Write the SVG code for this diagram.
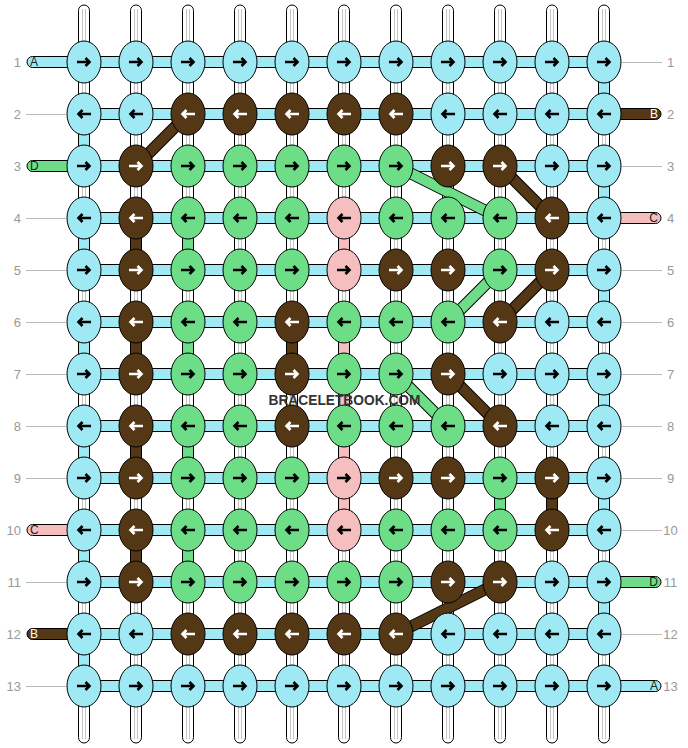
<svg xmlns="http://www.w3.org/2000/svg" xmlns:xlink="http://www.w3.org/1999/xlink" width="688" height="748" viewBox="0 0 688 748">
<style>
.rod{fill:#fff;stroke:#000;stroke-width:1}
.rl{stroke:#c4c4c4;stroke-width:1}
.h{fill:#9fe9f5;stroke:#000;stroke-width:1}
.kL{fill:#9fe9f5;stroke:#000;stroke-width:1}
.kG{fill:#6edd88;stroke:#000;stroke-width:1}
.kB{fill:#543816;stroke:#000;stroke-width:1}
.kP{fill:#f5bfbf;stroke:#000;stroke-width:1}
.vL{fill:#9fe9f5;stroke:#000}
.vG{fill:#6edd88;stroke:#000}
.vB{fill:#543816;stroke:#000}
.vP{fill:#f5bfbf;stroke:#000}
.dO{stroke:#000;stroke-width:12}
.dG{stroke:#6edd88;stroke-width:10}
.dB{stroke:#543816;stroke-width:10}
.gl{stroke:#bbb;stroke-width:1}
.b{stroke:#000}
.w{stroke:#fff}
.num{font-family:"Liberation Sans",Arial,sans-serif;font-size:13px;fill:#999}
.sl{font-family:"Liberation Sans",Arial,sans-serif;font-size:12px}
.wm{font-family:"Liberation Sans",Arial,sans-serif;font-size:15px;font-weight:bold;fill:#333}
</style>
<defs>
<path id="R" d="M-7,0H5.5M1.5,-4L5.5,0L1.5,4" fill="none" stroke-width="2.6"/>
<path id="L" d="M7,0H-5.5M-1.5,-4L-5.5,0L-1.5,4" fill="none" stroke-width="2.6"/>
</defs>
<g id="warp">
<rect class="rod" x="78.5" y="5" width="11" height="738" rx="5.5"/><path class="rl" d="M82.5,9V739M85.5,9V739"/>
<rect class="rod" x="130.5" y="5" width="11" height="738" rx="5.5"/><path class="rl" d="M134.5,9V739M137.5,9V739"/>
<rect class="rod" x="182.5" y="5" width="11" height="738" rx="5.5"/><path class="rl" d="M186.5,9V739M189.5,9V739"/>
<rect class="rod" x="234.5" y="5" width="11" height="738" rx="5.5"/><path class="rl" d="M238.5,9V739M241.5,9V739"/>
<rect class="rod" x="286.5" y="5" width="11" height="738" rx="5.5"/><path class="rl" d="M290.5,9V739M293.5,9V739"/>
<rect class="rod" x="338.5" y="5" width="11" height="738" rx="5.5"/><path class="rl" d="M342.5,9V739M345.5,9V739"/>
<rect class="rod" x="390.5" y="5" width="11" height="738" rx="5.5"/><path class="rl" d="M394.5,9V739M397.5,9V739"/>
<rect class="rod" x="442.5" y="5" width="11" height="738" rx="5.5"/><path class="rl" d="M446.5,9V739M449.5,9V739"/>
<rect class="rod" x="494.5" y="5" width="11" height="738" rx="5.5"/><path class="rl" d="M498.5,9V739M501.5,9V739"/>
<rect class="rod" x="546.5" y="5" width="11" height="738" rx="5.5"/><path class="rl" d="M550.5,9V739M553.5,9V739"/>
<rect class="rod" x="598.5" y="5" width="11" height="738" rx="5.5"/><path class="rl" d="M602.5,9V739M605.5,9V739"/>
</g>
<g id="connectors">
<g id="ends">
<rect class="h" x="27" y="56.5" width="62" height="11" rx="5.5"/>
<rect class="vG" x="27" y="160.5" width="62" height="11" rx="5.5"/>
<rect class="vP" x="27" y="524.5" width="62" height="11" rx="5.5"/>
<rect class="vB" x="27" y="628.5" width="62" height="11" rx="5.5"/>
<rect class="vB" x="599" y="108.5" width="62" height="11" rx="5.5"/>
<rect class="vP" x="599" y="212.5" width="62" height="11" rx="5.5"/>
<rect class="vG" x="599" y="576.5" width="62" height="11" rx="5.5"/>
<rect class="h" x="599" y="680.5" width="62" height="11" rx="5.5"/>
<path class="gl" d="M26,114.5H66M26,218.5H66M26,270.5H66M26,322.5H66M26,374.5H66M26,426.5H66M26,478.5H66M26,582.5H66M26,686.5H66"/>
<path class="gl" d="M622,62.5H662M622,166.5H662M622,270.5H662M622,322.5H662M622,374.5H662M622,426.5H662M622,478.5H662M622,530.5H662M622,634.5H662"/>
</g>
<g id="rows">
<rect class="h" x="84" y="56.5" width="520" height="11"/>
<rect class="h" x="84" y="108.5" width="520" height="11"/>
<rect class="h" x="84" y="160.5" width="520" height="11"/>
<rect class="h" x="84" y="212.5" width="520" height="11"/>
<rect class="h" x="84" y="264.5" width="520" height="11"/>
<rect class="h" x="84" y="316.5" width="520" height="11"/>
<rect class="h" x="84" y="368.5" width="520" height="11"/>
<rect class="h" x="84" y="420.5" width="520" height="11"/>
<rect class="h" x="84" y="472.5" width="520" height="11"/>
<rect class="h" x="84" y="524.5" width="520" height="11"/>
<rect class="h" x="84" y="576.5" width="520" height="11"/>
<rect class="h" x="84" y="628.5" width="520" height="11"/>
<rect class="h" x="84" y="680.5" width="520" height="11"/>
</g>
<g id="verticals">
<rect class="vL" x="78.5" y="131" width="11" height="18"/>
<rect class="vL" x="78.5" y="235" width="11" height="18"/>
<rect class="vL" x="78.5" y="339" width="11" height="18"/>
<rect class="vL" x="78.5" y="443" width="11" height="18"/>
<rect class="vL" x="78.5" y="547" width="11" height="18"/>
<rect class="vL" x="78.5" y="651" width="11" height="18"/>
<rect class="vL" x="598.5" y="79" width="11" height="18"/>
<rect class="vL" x="598.5" y="183" width="11" height="18"/>
<rect class="vL" x="598.5" y="287" width="11" height="18"/>
<rect class="vL" x="598.5" y="391" width="11" height="18"/>
<rect class="vL" x="598.5" y="495" width="11" height="18"/>
<rect class="vL" x="598.5" y="599" width="11" height="18"/>
<rect class="vB" x="130.5" y="235" width="11" height="18"/>
<rect class="vB" x="130.5" y="339" width="11" height="18"/>
<rect class="vB" x="130.5" y="443" width="11" height="18"/>
<rect class="vB" x="130.5" y="547" width="11" height="18"/>
<rect class="vG" x="182.5" y="235" width="11" height="18"/>
<rect class="vG" x="182.5" y="339" width="11" height="18"/>
<rect class="vG" x="182.5" y="443" width="11" height="18"/>
<rect class="vG" x="182.5" y="547" width="11" height="18"/>
<rect class="vB" x="286.5" y="339" width="11" height="18"/>
<rect class="vP" x="338.5" y="235" width="11" height="18"/>
<rect class="vP" x="338.5" y="339" width="11" height="18"/>
<rect class="vP" x="338.5" y="391" width="11" height="18"/>
<rect class="vP" x="338.5" y="443" width="11" height="18"/>
<rect class="vP" x="338.5" y="495" width="11" height="18"/>
<rect class="vG" x="494.5" y="495" width="11" height="18"/>
<rect class="vB" x="546.5" y="495" width="11" height="18"/>
</g>
<g id="diagonals">
<path class="dO" d="M136,166L188,114M396,166L500,218M500,166L552,218M500,270L448,322M552,270L500,322M396,374L448,426M448,374L500,426M500,582L396,634"/>
<path class="dB" d="M136,166L188,114"/>
<path class="dG" d="M396,166L500,218"/>
<path class="dB" d="M500,166L552,218"/>
<path class="dG" d="M500,270L448,322"/>
<path class="dB" d="M552,270L500,322"/>
<path class="dG" d="M396,374L448,426"/>
<path class="dB" d="M448,374L500,426"/>
<path class="dB" d="M500,582L396,634"/>
</g>
</g>
<g id="knots">
<g id="n1-1"><ellipse class="kL" cx="84" cy="62" rx="17" ry="21"/><use href="#R" x="84" y="62" class="b"/></g>
<g id="n1-2"><ellipse class="kL" cx="136" cy="62" rx="17" ry="21"/><use href="#R" x="136" y="62" class="b"/></g>
<g id="n1-3"><ellipse class="kL" cx="188" cy="62" rx="17" ry="21"/><use href="#R" x="188" y="62" class="b"/></g>
<g id="n1-4"><ellipse class="kL" cx="240" cy="62" rx="17" ry="21"/><use href="#R" x="240" y="62" class="b"/></g>
<g id="n1-5"><ellipse class="kL" cx="292" cy="62" rx="17" ry="21"/><use href="#R" x="292" y="62" class="b"/></g>
<g id="n1-6"><ellipse class="kL" cx="344" cy="62" rx="17" ry="21"/><use href="#R" x="344" y="62" class="b"/></g>
<g id="n1-7"><ellipse class="kL" cx="396" cy="62" rx="17" ry="21"/><use href="#R" x="396" y="62" class="b"/></g>
<g id="n1-8"><ellipse class="kL" cx="448" cy="62" rx="17" ry="21"/><use href="#R" x="448" y="62" class="b"/></g>
<g id="n1-9"><ellipse class="kL" cx="500" cy="62" rx="17" ry="21"/><use href="#R" x="500" y="62" class="b"/></g>
<g id="n1-10"><ellipse class="kL" cx="552" cy="62" rx="17" ry="21"/><use href="#R" x="552" y="62" class="b"/></g>
<g id="n1-11"><ellipse class="kL" cx="604" cy="62" rx="17" ry="21"/><use href="#R" x="604" y="62" class="b"/></g>

<g id="n2-1"><ellipse class="kL" cx="84" cy="114" rx="17" ry="21"/><use href="#L" x="84" y="114" class="b"/></g>
<g id="n2-2"><ellipse class="kL" cx="136" cy="114" rx="17" ry="21"/><use href="#L" x="136" y="114" class="b"/></g>
<g id="n2-3"><ellipse class="kB" cx="188" cy="114" rx="17" ry="21"/><use href="#L" x="188" y="114" class="w"/></g>
<g id="n2-4"><ellipse class="kB" cx="240" cy="114" rx="17" ry="21"/><use href="#L" x="240" y="114" class="w"/></g>
<g id="n2-5"><ellipse class="kB" cx="292" cy="114" rx="17" ry="21"/><use href="#L" x="292" y="114" class="w"/></g>
<g id="n2-6"><ellipse class="kB" cx="344" cy="114" rx="17" ry="21"/><use href="#L" x="344" y="114" class="w"/></g>
<g id="n2-7"><ellipse class="kB" cx="396" cy="114" rx="17" ry="21"/><use href="#L" x="396" y="114" class="w"/></g>
<g id="n2-8"><ellipse class="kL" cx="448" cy="114" rx="17" ry="21"/><use href="#L" x="448" y="114" class="b"/></g>
<g id="n2-9"><ellipse class="kL" cx="500" cy="114" rx="17" ry="21"/><use href="#L" x="500" y="114" class="b"/></g>
<g id="n2-10"><ellipse class="kL" cx="552" cy="114" rx="17" ry="21"/><use href="#L" x="552" y="114" class="b"/></g>
<g id="n2-11"><ellipse class="kL" cx="604" cy="114" rx="17" ry="21"/><use href="#L" x="604" y="114" class="b"/></g>

<g id="n3-1"><ellipse class="kL" cx="84" cy="166" rx="17" ry="21"/><use href="#R" x="84" y="166" class="b"/></g>
<g id="n3-2"><ellipse class="kB" cx="136" cy="166" rx="17" ry="21"/><use href="#R" x="136" y="166" class="w"/></g>
<g id="n3-3"><ellipse class="kG" cx="188" cy="166" rx="17" ry="21"/><use href="#R" x="188" y="166" class="b"/></g>
<g id="n3-4"><ellipse class="kG" cx="240" cy="166" rx="17" ry="21"/><use href="#R" x="240" y="166" class="b"/></g>
<g id="n3-5"><ellipse class="kG" cx="292" cy="166" rx="17" ry="21"/><use href="#R" x="292" y="166" class="b"/></g>
<g id="n3-6"><ellipse class="kG" cx="344" cy="166" rx="17" ry="21"/><use href="#R" x="344" y="166" class="b"/></g>
<g id="n3-7"><ellipse class="kG" cx="396" cy="166" rx="17" ry="21"/><use href="#R" x="396" y="166" class="b"/></g>
<g id="n3-8"><ellipse class="kB" cx="448" cy="166" rx="17" ry="21"/><use href="#R" x="448" y="166" class="w"/></g>
<g id="n3-9"><ellipse class="kB" cx="500" cy="166" rx="17" ry="21"/><use href="#R" x="500" y="166" class="w"/></g>
<g id="n3-10"><ellipse class="kL" cx="552" cy="166" rx="17" ry="21"/><use href="#R" x="552" y="166" class="b"/></g>
<g id="n3-11"><ellipse class="kL" cx="604" cy="166" rx="17" ry="21"/><use href="#R" x="604" y="166" class="b"/></g>

<g id="n4-1"><ellipse class="kL" cx="84" cy="218" rx="17" ry="21"/><use href="#L" x="84" y="218" class="b"/></g>
<g id="n4-2"><ellipse class="kB" cx="136" cy="218" rx="17" ry="21"/><use href="#L" x="136" y="218" class="w"/></g>
<g id="n4-3"><ellipse class="kG" cx="188" cy="218" rx="17" ry="21"/><use href="#L" x="188" y="218" class="b"/></g>
<g id="n4-4"><ellipse class="kG" cx="240" cy="218" rx="17" ry="21"/><use href="#L" x="240" y="218" class="b"/></g>
<g id="n4-5"><ellipse class="kG" cx="292" cy="218" rx="17" ry="21"/><use href="#L" x="292" y="218" class="b"/></g>
<g id="n4-6"><ellipse class="kP" cx="344" cy="218" rx="17" ry="21"/><use href="#L" x="344" y="218" class="b"/></g>
<g id="n4-7"><ellipse class="kG" cx="396" cy="218" rx="17" ry="21"/><use href="#L" x="396" y="218" class="b"/></g>
<g id="n4-8"><ellipse class="kG" cx="448" cy="218" rx="17" ry="21"/><use href="#L" x="448" y="218" class="b"/></g>
<g id="n4-9"><ellipse class="kG" cx="500" cy="218" rx="17" ry="21"/><use href="#L" x="500" y="218" class="b"/></g>
<g id="n4-10"><ellipse class="kB" cx="552" cy="218" rx="17" ry="21"/><use href="#L" x="552" y="218" class="w"/></g>
<g id="n4-11"><ellipse class="kL" cx="604" cy="218" rx="17" ry="21"/><use href="#L" x="604" y="218" class="b"/></g>

<g id="n5-1"><ellipse class="kL" cx="84" cy="270" rx="17" ry="21"/><use href="#R" x="84" y="270" class="b"/></g>
<g id="n5-2"><ellipse class="kB" cx="136" cy="270" rx="17" ry="21"/><use href="#R" x="136" y="270" class="w"/></g>
<g id="n5-3"><ellipse class="kG" cx="188" cy="270" rx="17" ry="21"/><use href="#R" x="188" y="270" class="b"/></g>
<g id="n5-4"><ellipse class="kG" cx="240" cy="270" rx="17" ry="21"/><use href="#R" x="240" y="270" class="b"/></g>
<g id="n5-5"><ellipse class="kG" cx="292" cy="270" rx="17" ry="21"/><use href="#R" x="292" y="270" class="b"/></g>
<g id="n5-6"><ellipse class="kP" cx="344" cy="270" rx="17" ry="21"/><use href="#R" x="344" y="270" class="b"/></g>
<g id="n5-7"><ellipse class="kB" cx="396" cy="270" rx="17" ry="21"/><use href="#R" x="396" y="270" class="w"/></g>
<g id="n5-8"><ellipse class="kB" cx="448" cy="270" rx="17" ry="21"/><use href="#R" x="448" y="270" class="w"/></g>
<g id="n5-9"><ellipse class="kG" cx="500" cy="270" rx="17" ry="21"/><use href="#R" x="500" y="270" class="b"/></g>
<g id="n5-10"><ellipse class="kB" cx="552" cy="270" rx="17" ry="21"/><use href="#R" x="552" y="270" class="w"/></g>
<g id="n5-11"><ellipse class="kL" cx="604" cy="270" rx="17" ry="21"/><use href="#R" x="604" y="270" class="b"/></g>

<g id="n6-1"><ellipse class="kL" cx="84" cy="322" rx="17" ry="21"/><use href="#L" x="84" y="322" class="b"/></g>
<g id="n6-2"><ellipse class="kB" cx="136" cy="322" rx="17" ry="21"/><use href="#L" x="136" y="322" class="w"/></g>
<g id="n6-3"><ellipse class="kG" cx="188" cy="322" rx="17" ry="21"/><use href="#L" x="188" y="322" class="b"/></g>
<g id="n6-4"><ellipse class="kG" cx="240" cy="322" rx="17" ry="21"/><use href="#L" x="240" y="322" class="b"/></g>
<g id="n6-5"><ellipse class="kB" cx="292" cy="322" rx="17" ry="21"/><use href="#L" x="292" y="322" class="w"/></g>
<g id="n6-6"><ellipse class="kG" cx="344" cy="322" rx="17" ry="21"/><use href="#L" x="344" y="322" class="b"/></g>
<g id="n6-7"><ellipse class="kG" cx="396" cy="322" rx="17" ry="21"/><use href="#L" x="396" y="322" class="b"/></g>
<g id="n6-8"><ellipse class="kG" cx="448" cy="322" rx="17" ry="21"/><use href="#L" x="448" y="322" class="b"/></g>
<g id="n6-9"><ellipse class="kB" cx="500" cy="322" rx="17" ry="21"/><use href="#L" x="500" y="322" class="w"/></g>
<g id="n6-10"><ellipse class="kL" cx="552" cy="322" rx="17" ry="21"/><use href="#L" x="552" y="322" class="b"/></g>
<g id="n6-11"><ellipse class="kL" cx="604" cy="322" rx="17" ry="21"/><use href="#L" x="604" y="322" class="b"/></g>

<g id="n7-1"><ellipse class="kL" cx="84" cy="374" rx="17" ry="21"/><use href="#R" x="84" y="374" class="b"/></g>
<g id="n7-2"><ellipse class="kB" cx="136" cy="374" rx="17" ry="21"/><use href="#R" x="136" y="374" class="w"/></g>
<g id="n7-3"><ellipse class="kG" cx="188" cy="374" rx="17" ry="21"/><use href="#R" x="188" y="374" class="b"/></g>
<g id="n7-4"><ellipse class="kG" cx="240" cy="374" rx="17" ry="21"/><use href="#R" x="240" y="374" class="b"/></g>
<g id="n7-5"><ellipse class="kB" cx="292" cy="374" rx="17" ry="21"/><use href="#R" x="292" y="374" class="w"/></g>
<g id="n7-6"><ellipse class="kG" cx="344" cy="374" rx="17" ry="21"/><use href="#R" x="344" y="374" class="b"/></g>
<g id="n7-7"><ellipse class="kG" cx="396" cy="374" rx="17" ry="21"/><use href="#R" x="396" y="374" class="b"/></g>
<g id="n7-8"><ellipse class="kB" cx="448" cy="374" rx="17" ry="21"/><use href="#R" x="448" y="374" class="w"/></g>
<g id="n7-9"><ellipse class="kL" cx="500" cy="374" rx="17" ry="21"/><use href="#R" x="500" y="374" class="b"/></g>
<g id="n7-10"><ellipse class="kL" cx="552" cy="374" rx="17" ry="21"/><use href="#R" x="552" y="374" class="b"/></g>
<g id="n7-11"><ellipse class="kL" cx="604" cy="374" rx="17" ry="21"/><use href="#R" x="604" y="374" class="b"/></g>

<g id="n8-1"><ellipse class="kL" cx="84" cy="426" rx="17" ry="21"/><use href="#L" x="84" y="426" class="b"/></g>
<g id="n8-2"><ellipse class="kB" cx="136" cy="426" rx="17" ry="21"/><use href="#L" x="136" y="426" class="w"/></g>
<g id="n8-3"><ellipse class="kG" cx="188" cy="426" rx="17" ry="21"/><use href="#L" x="188" y="426" class="b"/></g>
<g id="n8-4"><ellipse class="kG" cx="240" cy="426" rx="17" ry="21"/><use href="#L" x="240" y="426" class="b"/></g>
<g id="n8-5"><ellipse class="kB" cx="292" cy="426" rx="17" ry="21"/><use href="#L" x="292" y="426" class="w"/></g>
<g id="n8-6"><ellipse class="kG" cx="344" cy="426" rx="17" ry="21"/><use href="#L" x="344" y="426" class="b"/></g>
<g id="n8-7"><ellipse class="kG" cx="396" cy="426" rx="17" ry="21"/><use href="#L" x="396" y="426" class="b"/></g>
<g id="n8-8"><ellipse class="kG" cx="448" cy="426" rx="17" ry="21"/><use href="#L" x="448" y="426" class="b"/></g>
<g id="n8-9"><ellipse class="kB" cx="500" cy="426" rx="17" ry="21"/><use href="#L" x="500" y="426" class="w"/></g>
<g id="n8-10"><ellipse class="kL" cx="552" cy="426" rx="17" ry="21"/><use href="#L" x="552" y="426" class="b"/></g>
<g id="n8-11"><ellipse class="kL" cx="604" cy="426" rx="17" ry="21"/><use href="#L" x="604" y="426" class="b"/></g>

<g id="n9-1"><ellipse class="kL" cx="84" cy="478" rx="17" ry="21"/><use href="#R" x="84" y="478" class="b"/></g>
<g id="n9-2"><ellipse class="kB" cx="136" cy="478" rx="17" ry="21"/><use href="#R" x="136" y="478" class="w"/></g>
<g id="n9-3"><ellipse class="kG" cx="188" cy="478" rx="17" ry="21"/><use href="#R" x="188" y="478" class="b"/></g>
<g id="n9-4"><ellipse class="kG" cx="240" cy="478" rx="17" ry="21"/><use href="#R" x="240" y="478" class="b"/></g>
<g id="n9-5"><ellipse class="kG" cx="292" cy="478" rx="17" ry="21"/><use href="#R" x="292" y="478" class="b"/></g>
<g id="n9-6"><ellipse class="kP" cx="344" cy="478" rx="17" ry="21"/><use href="#R" x="344" y="478" class="b"/></g>
<g id="n9-7"><ellipse class="kB" cx="396" cy="478" rx="17" ry="21"/><use href="#R" x="396" y="478" class="w"/></g>
<g id="n9-8"><ellipse class="kB" cx="448" cy="478" rx="17" ry="21"/><use href="#R" x="448" y="478" class="w"/></g>
<g id="n9-9"><ellipse class="kG" cx="500" cy="478" rx="17" ry="21"/><use href="#R" x="500" y="478" class="b"/></g>
<g id="n9-10"><ellipse class="kB" cx="552" cy="478" rx="17" ry="21"/><use href="#R" x="552" y="478" class="w"/></g>
<g id="n9-11"><ellipse class="kL" cx="604" cy="478" rx="17" ry="21"/><use href="#R" x="604" y="478" class="b"/></g>

<g id="n10-1"><ellipse class="kL" cx="84" cy="530" rx="17" ry="21"/><use href="#L" x="84" y="530" class="b"/></g>
<g id="n10-2"><ellipse class="kB" cx="136" cy="530" rx="17" ry="21"/><use href="#L" x="136" y="530" class="w"/></g>
<g id="n10-3"><ellipse class="kG" cx="188" cy="530" rx="17" ry="21"/><use href="#L" x="188" y="530" class="b"/></g>
<g id="n10-4"><ellipse class="kG" cx="240" cy="530" rx="17" ry="21"/><use href="#L" x="240" y="530" class="b"/></g>
<g id="n10-5"><ellipse class="kG" cx="292" cy="530" rx="17" ry="21"/><use href="#L" x="292" y="530" class="b"/></g>
<g id="n10-6"><ellipse class="kP" cx="344" cy="530" rx="17" ry="21"/><use href="#L" x="344" y="530" class="b"/></g>
<g id="n10-7"><ellipse class="kG" cx="396" cy="530" rx="17" ry="21"/><use href="#L" x="396" y="530" class="b"/></g>
<g id="n10-8"><ellipse class="kG" cx="448" cy="530" rx="17" ry="21"/><use href="#L" x="448" y="530" class="b"/></g>
<g id="n10-9"><ellipse class="kG" cx="500" cy="530" rx="17" ry="21"/><use href="#L" x="500" y="530" class="b"/></g>
<g id="n10-10"><ellipse class="kB" cx="552" cy="530" rx="17" ry="21"/><use href="#L" x="552" y="530" class="w"/></g>
<g id="n10-11"><ellipse class="kL" cx="604" cy="530" rx="17" ry="21"/><use href="#L" x="604" y="530" class="b"/></g>

<g id="n11-1"><ellipse class="kL" cx="84" cy="582" rx="17" ry="21"/><use href="#R" x="84" y="582" class="b"/></g>
<g id="n11-2"><ellipse class="kB" cx="136" cy="582" rx="17" ry="21"/><use href="#R" x="136" y="582" class="w"/></g>
<g id="n11-3"><ellipse class="kG" cx="188" cy="582" rx="17" ry="21"/><use href="#R" x="188" y="582" class="b"/></g>
<g id="n11-4"><ellipse class="kG" cx="240" cy="582" rx="17" ry="21"/><use href="#R" x="240" y="582" class="b"/></g>
<g id="n11-5"><ellipse class="kG" cx="292" cy="582" rx="17" ry="21"/><use href="#R" x="292" y="582" class="b"/></g>
<g id="n11-6"><ellipse class="kG" cx="344" cy="582" rx="17" ry="21"/><use href="#R" x="344" y="582" class="b"/></g>
<g id="n11-7"><ellipse class="kG" cx="396" cy="582" rx="17" ry="21"/><use href="#R" x="396" y="582" class="b"/></g>
<g id="n11-8"><ellipse class="kB" cx="448" cy="582" rx="17" ry="21"/><use href="#R" x="448" y="582" class="w"/></g>
<g id="n11-9"><ellipse class="kB" cx="500" cy="582" rx="17" ry="21"/><use href="#R" x="500" y="582" class="w"/></g>
<g id="n11-10"><ellipse class="kL" cx="552" cy="582" rx="17" ry="21"/><use href="#R" x="552" y="582" class="b"/></g>
<g id="n11-11"><ellipse class="kL" cx="604" cy="582" rx="17" ry="21"/><use href="#R" x="604" y="582" class="b"/></g>

<g id="n12-1"><ellipse class="kL" cx="84" cy="634" rx="17" ry="21"/><use href="#L" x="84" y="634" class="b"/></g>
<g id="n12-2"><ellipse class="kL" cx="136" cy="634" rx="17" ry="21"/><use href="#L" x="136" y="634" class="b"/></g>
<g id="n12-3"><ellipse class="kB" cx="188" cy="634" rx="17" ry="21"/><use href="#L" x="188" y="634" class="w"/></g>
<g id="n12-4"><ellipse class="kB" cx="240" cy="634" rx="17" ry="21"/><use href="#L" x="240" y="634" class="w"/></g>
<g id="n12-5"><ellipse class="kB" cx="292" cy="634" rx="17" ry="21"/><use href="#L" x="292" y="634" class="w"/></g>
<g id="n12-6"><ellipse class="kB" cx="344" cy="634" rx="17" ry="21"/><use href="#L" x="344" y="634" class="w"/></g>
<g id="n12-7"><ellipse class="kB" cx="396" cy="634" rx="17" ry="21"/><use href="#L" x="396" y="634" class="w"/></g>
<g id="n12-8"><ellipse class="kL" cx="448" cy="634" rx="17" ry="21"/><use href="#L" x="448" y="634" class="b"/></g>
<g id="n12-9"><ellipse class="kL" cx="500" cy="634" rx="17" ry="21"/><use href="#L" x="500" y="634" class="b"/></g>
<g id="n12-10"><ellipse class="kL" cx="552" cy="634" rx="17" ry="21"/><use href="#L" x="552" y="634" class="b"/></g>
<g id="n12-11"><ellipse class="kL" cx="604" cy="634" rx="17" ry="21"/><use href="#L" x="604" y="634" class="b"/></g>

<g id="n13-1"><ellipse class="kL" cx="84" cy="686" rx="17" ry="21"/><use href="#R" x="84" y="686" class="b"/></g>
<g id="n13-2"><ellipse class="kL" cx="136" cy="686" rx="17" ry="21"/><use href="#R" x="136" y="686" class="b"/></g>
<g id="n13-3"><ellipse class="kL" cx="188" cy="686" rx="17" ry="21"/><use href="#R" x="188" y="686" class="b"/></g>
<g id="n13-4"><ellipse class="kL" cx="240" cy="686" rx="17" ry="21"/><use href="#R" x="240" y="686" class="b"/></g>
<g id="n13-5"><ellipse class="kL" cx="292" cy="686" rx="17" ry="21"/><use href="#R" x="292" y="686" class="b"/></g>
<g id="n13-6"><ellipse class="kL" cx="344" cy="686" rx="17" ry="21"/><use href="#R" x="344" y="686" class="b"/></g>
<g id="n13-7"><ellipse class="kL" cx="396" cy="686" rx="17" ry="21"/><use href="#R" x="396" y="686" class="b"/></g>
<g id="n13-8"><ellipse class="kL" cx="448" cy="686" rx="17" ry="21"/><use href="#R" x="448" y="686" class="b"/></g>
<g id="n13-9"><ellipse class="kL" cx="500" cy="686" rx="17" ry="21"/><use href="#R" x="500" y="686" class="b"/></g>
<g id="n13-10"><ellipse class="kL" cx="552" cy="686" rx="17" ry="21"/><use href="#R" x="552" y="686" class="b"/></g>
<g id="n13-11"><ellipse class="kL" cx="604" cy="686" rx="17" ry="21"/><use href="#R" x="604" y="686" class="b"/></g>
</g>
<g id="labels">
<g class="num" text-anchor="end">
<text x="21" y="66.5">1</text><text x="21" y="118.5">2</text><text x="21" y="170.5">3</text><text x="21" y="222.5">4</text><text x="21" y="274.5">5</text><text x="21" y="326.5">6</text><text x="21" y="378.5">7</text><text x="21" y="430.5">8</text><text x="21" y="482.5">9</text><text x="21" y="534.5">10</text><text x="21" y="586.5">11</text><text x="21" y="638.5">12</text><text x="21" y="690.5">13</text>
</g>
<g class="num" text-anchor="middle">
<text x="670.5" y="66.5">1</text><text x="670.5" y="118.5">2</text><text x="670.5" y="170.5">3</text><text x="670.5" y="222.5">4</text><text x="670.5" y="274.5">5</text><text x="670.5" y="326.5">6</text><text x="670.5" y="378.5">7</text><text x="670.5" y="430.5">8</text><text x="670.5" y="482.5">9</text><text x="670.5" y="534.5">10</text><text x="670.5" y="586.5">11</text><text x="670.5" y="638.5">12</text><text x="670.5" y="690.5">13</text>
</g>
<text class="sl" x="30" y="66.3" fill="#222">A</text>
<text class="sl" x="30" y="170.3" fill="#222">D</text>
<text class="sl" x="30" y="534.3" fill="#222">C</text>
<text class="sl" x="30" y="638.3" fill="#fff">B</text>
<text class="sl" x="658" y="118.3" fill="#fff" text-anchor="end">B</text>
<text class="sl" x="658" y="222.3" fill="#222" text-anchor="end">C</text>
<text class="sl" x="658" y="586.3" fill="#222" text-anchor="end">D</text>
<text class="sl" x="658" y="690.3" fill="#222" text-anchor="end">A</text>
<text class="wm" x="344.5" y="405" text-anchor="middle" textLength="152" lengthAdjust="spacingAndGlyphs">BRACELETBOOK.COM</text>
</g>
</svg>
